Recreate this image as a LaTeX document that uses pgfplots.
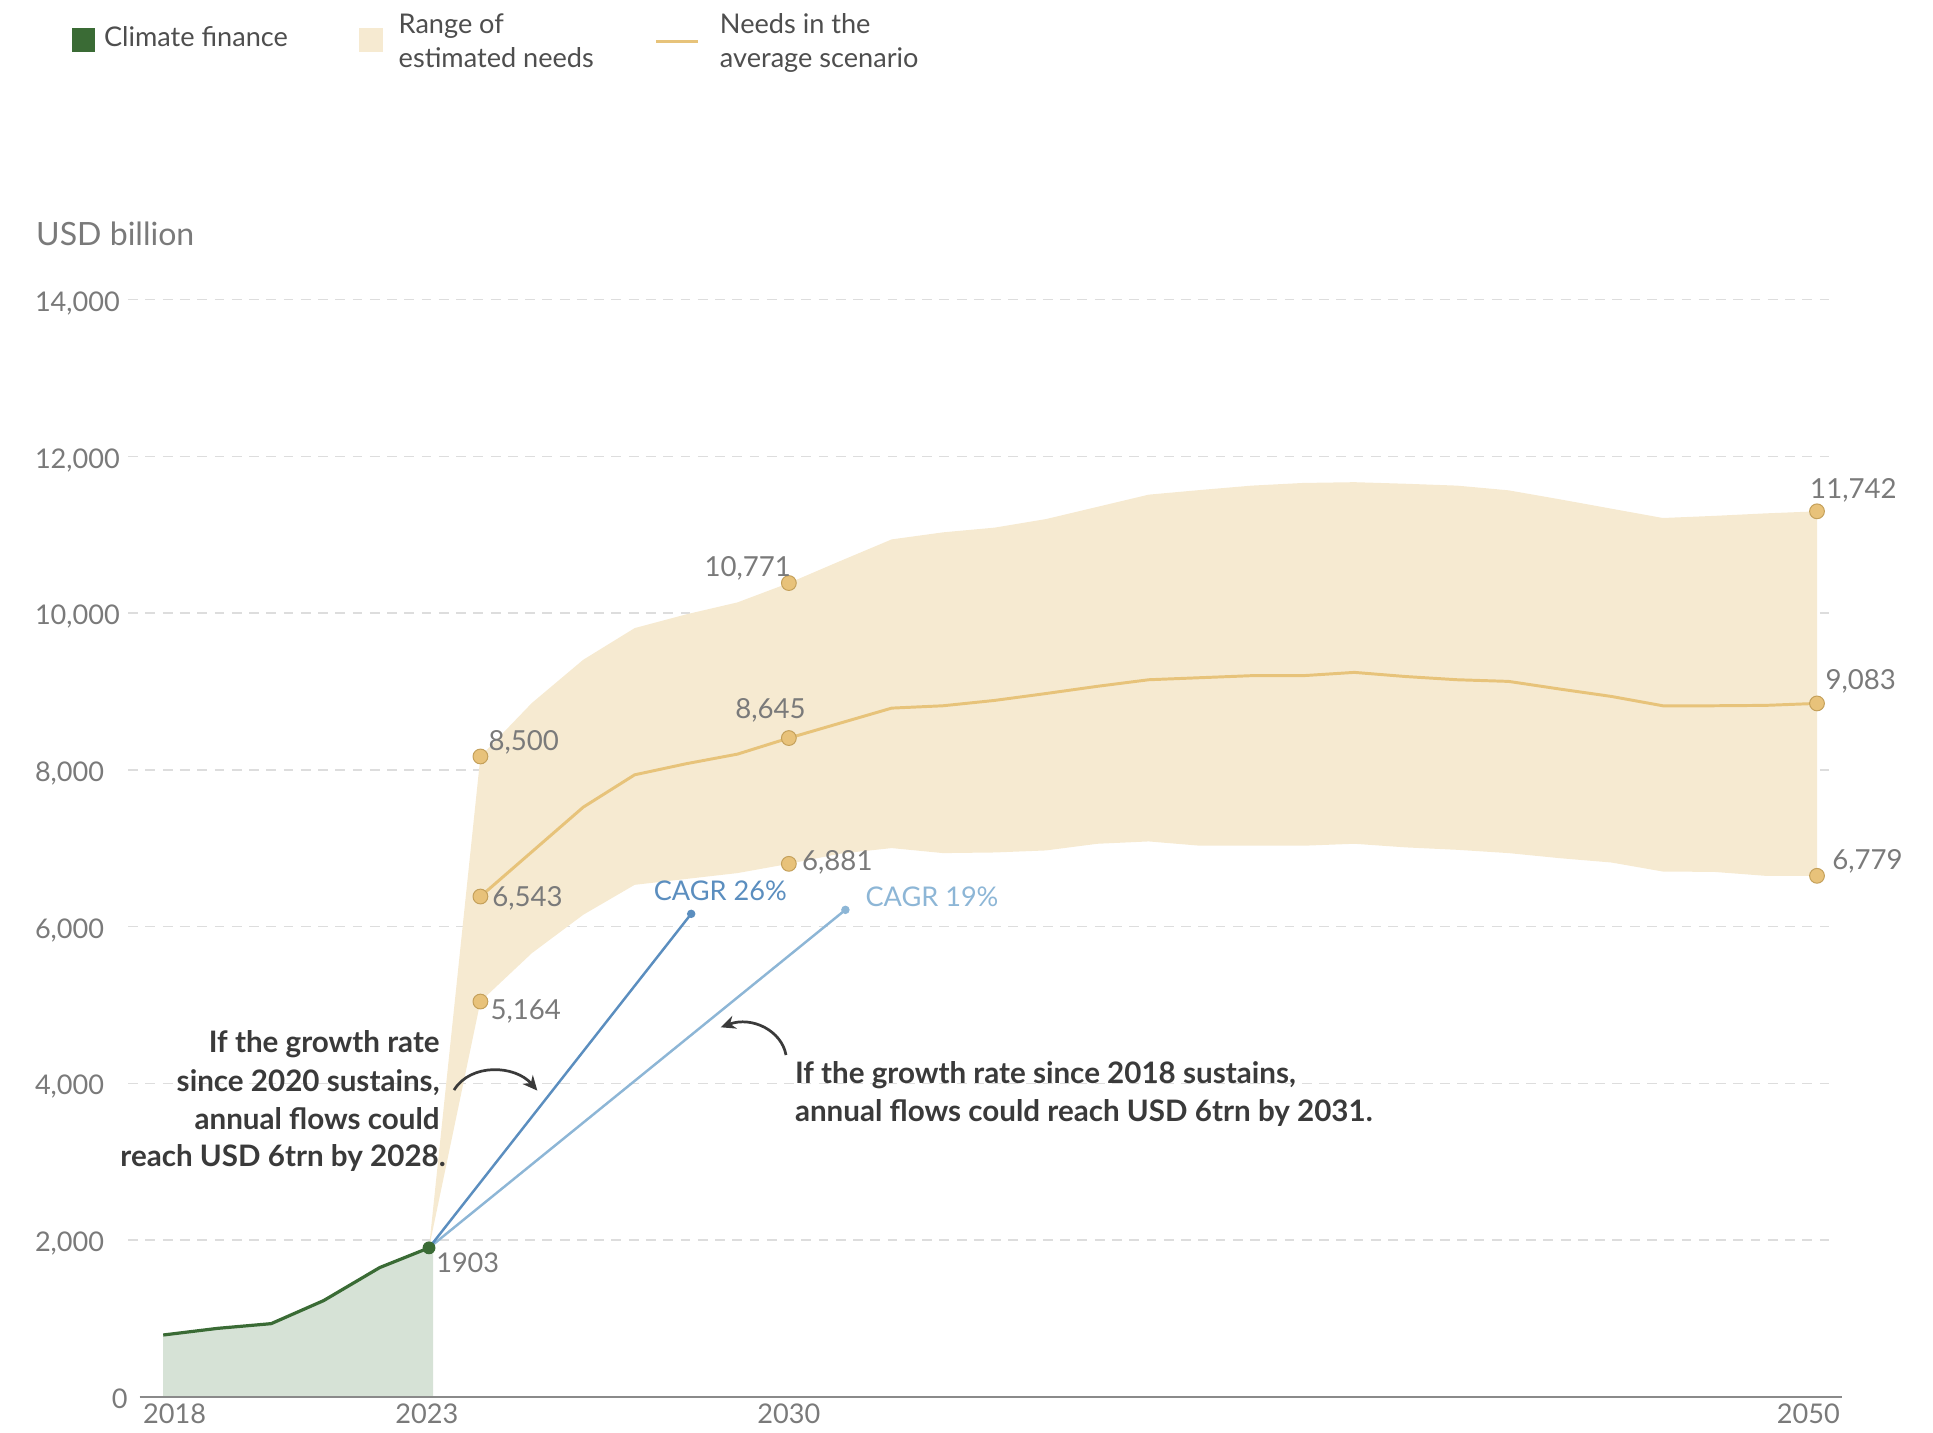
\documentclass[border=0pt]{standalone}
\usepackage{fontspec}
\setmainfont{Lato}
\usepackage{pgfplots}
\pgfplotsset{compat=1.18}
\usetikzlibrary{arrows.meta}
\definecolor{cfgreen}{HTML}{3A6B35}
\definecolor{cffill}{HTML}{D6E2D6}
\definecolor{band}{HTML}{F6EAD1}
\definecolor{meanline}{HTML}{E7C37A}
\definecolor{dotfill}{HTML}{E8C27A}
\definecolor{dotdraw}{HTML}{C4A05A}
\definecolor{blueA}{HTML}{5B8EBF}
\definecolor{blueB}{HTML}{8DB6D6}
\definecolor{txtgrey}{HTML}{7A7A7A}
\definecolor{darktxt}{HTML}{3A3A3A}
\definecolor{gridc}{HTML}{DDDDDD}
\definecolor{axisc}{HTML}{8A8A8A}
\newcommand{\fs}[1]{\fontsize{#1}{#1}\selectfont}
\begin{document}
\begin{tikzpicture}
\begin{axis}[
  at={(52pt,-566.5pt)}, anchor=south west,
  scale only axis, width=693pt, height=445pt,
  xmin=2017.1487, xmax=2050.386, ymin=0, ymax=14000,
  scaled x ticks=false, scaled y ticks=false,
  axis line style={draw=none},
  major tick length=0pt,
  xtick={2018.05,2022.96,2030,2049.83},
  xticklabels={\raisebox{-3.3pt}{2018},2023,2030,2050},
  xticklabel style={inner sep=0pt, anchor=north, yshift=-2.5pt, font=\fs{11}, text=txtgrey},
  ytick={2000,4000,6000,8000,10000,12000,14000},
  yticklabels={{2,000},{4,000},{6,000},{8,000},{10,000},{12,000},{14,000}},
  yticklabel style={anchor=west, inner sep=0pt, xshift=-38pt, yshift=-1.5pt, font=\fs{11}, text=txtgrey},
  ymajorgrids, grid style={gridc, dash pattern=on 4pt off 3pt, line width=0.6pt},
  clip=false,
]
% range of estimated needs (upper then lower reversed)
\addplot[draw=none, fill=band] coordinates {
(2023,1900) (2024,8170) (2025,8852) (2026,9404) (2027,9808) (2028,9983) (2029,10136) (2030,10383)
(2031,10664) (2032,10940) (2033,11030) (2034,11090) (2035,11199) (2036,11355) (2037,11511)
(2038,11570) (2039,11626) (2040,11660) (2041,11670) (2042,11650) (2043,11626) (2044,11566)
(2045,11451) (2046,11332) (2047,11213) (2048,11240) (2049,11272) (2050,11298)
(2050,6647) (2049,6647) (2048,6697) (2047,6702) (2046,6817) (2045,6872) (2044,6937) (2043,6979)
(2042,7010) (2041,7056) (2040,7031) (2039,7031) (2038,7031) (2037,7086) (2036,7056) (2035,6971)
(2034,6945) (2033,6937) (2032,7001) (2031,6930) (2030,6800) (2029,6682) (2028,6607) (2027,6532)
(2026,6150) (2025,5660) (2024,5043) (2023,1900)
};
% climate finance area
\addplot[draw=none, fill=cffill] coordinates {
(2017.83,0) (2017.83,788) (2018.89,873) (2019.93,933) (2020.95,1227) (2022.04,1648) (2023,1900) (2023.08,1900) (2023.08,0)
};
% average scenario
\addplot[meanline, line width=1.2pt] coordinates {
(2024,6383) (2025,6953) (2026,7523) (2027,7936) (2028,8077) (2029,8200) (2030,8405) (2031,8596)
(2032,8787) (2033,8817) (2034,8885) (2035,8973) (2036,9065) (2037,9149) (2038,9175) (2039,9201)
(2040,9201) (2041,9243) (2042,9190) (2043,9149) (2044,9128) (2045,9030) (2046,8936) (2047,8817)
(2048,8817) (2049,8822) (2050,8847)
};
% CAGR lines
\addplot[blueB, line width=1pt] coordinates {(2023,1900) (2031.1,6213)};
\addplot[blueA, line width=1pt] coordinates {(2023,1900) (2028.1,6162)};
\addplot[only marks, mark=*, mark size=1.5pt, blueB] coordinates {(2031.1,6213)};
\addplot[only marks, mark=*, mark size=1.5pt, blueA] coordinates {(2028.1,6162)};
% climate finance line
\addplot[cfgreen, line width=1.3pt] coordinates {
(2017.83,788) (2018.89,873) (2019.93,933) (2020.95,1227) (2022.04,1648) (2023,1900)
};
\addplot[only marks, mark=*, mark size=2.4pt, cfgreen] coordinates {(2023,1900)};
% highlighted points
\addplot[only marks, mark=*, mark size=3pt, mark options={fill=dotfill, draw=dotdraw, line width=0.4pt}] coordinates {
(2024,8170) (2024,6383) (2024,5043) (2030,10383) (2030,8405) (2030,6800) (2050,11298) (2050,8847) (2050,6647)
};
\draw[axisc, line width=1pt] (axis cs:2017.37,0) -- (axis cs:2050.48,0);
\end{axis}
\begin{scope}[x=0.5pt, y=-0.5pt]
% legend
\fill[cfgreen] (58,23) rectangle (77,42);
\node[anchor=base west, inner sep=0pt, text=darktxt!90] at (84,38) {\fs{11}Climate finance};
\fill[band] (291,23) rectangle (311,42);
\node[anchor=base west, inner sep=0pt, text=darktxt!90] at (323,27) {\fs{11}Range of};
\node[anchor=base west, inner sep=0pt, text=darktxt!90] at (323,54.5) {\fs{11}estimated needs};
\draw[meanline, line width=1.3pt] (532.5,33.5) -- (566.3,33.5);
\node[anchor=base west, inner sep=0pt, text=darktxt!90] at (583.6,27.5) {\fs{11}Needs in the};
\node[anchor=base west, inner sep=0pt, text=darktxt!90] at (583.6,55) {\fs{11}average scenario};
% axis title
\node[anchor=base west, inner sep=0pt, text=txtgrey] at (29,199.5) {\fs{13}USD billion};
\node[anchor=east, inner sep=0pt, text=txtgrey] at (104,1134.5) {\fs{11}0};
% value labels
\node[anchor=base west, inner sep=0pt, text=txtgrey] at (396,609) {\fs{11.2}8,500};
\node[anchor=base west, inner sep=0pt, text=txtgrey] at (399,735.5) {\fs{11.2}6,543};
\node[anchor=base west, inner sep=0pt, text=txtgrey] at (397.5,827) {\fs{11.2}5,164};
\node[anchor=base east, inner sep=0pt, text=txtgrey] at (642,467.6) {\fs{11.2}10,771};
\node[anchor=base, inner sep=0pt, text=txtgrey] at (625,582.6) {\fs{11.2}8,645};
\node[anchor=base west, inner sep=0pt, text=txtgrey] at (650.3,706.3) {\fs{11.2}6,881};
\node[anchor=base west, inner sep=0pt, text=txtgrey] at (1468,404) {\fs{11.2}11,742};
\node[anchor=base west, inner sep=0pt, text=txtgrey] at (1480.4,559.6) {\fs{11.2}9,083};
\node[anchor=base west, inner sep=0pt, text=txtgrey] at (1486,705.5) {\fs{11.2}6,779};
\node[anchor=base west, inner sep=0pt, text=txtgrey] at (353.5,1032) {\fs{11}1903};
\node[anchor=base west, inner sep=0pt, text=blueA] at (530,730.7) {\fs{11}CAGR 26\%};
\node[anchor=base west, inner sep=0pt, text=blueB] at (701.7,735.4) {\fs{11}CAGR 19\%};
% annotations
\node[anchor=base east, inner sep=0pt, text=darktxt] at (357,853.9) {\fs{12}\bfseries If the growth rate};
\node[anchor=base east, inner sep=0pt, text=darktxt] at (357,885) {\fs{12}\bfseries since 2020 sustains,};
\node[anchor=base east, inner sep=0pt, text=darktxt] at (357,916) {\fs{12}\bfseries annual flows could};
\node[anchor=base east, inner sep=0pt, text=darktxt] at (362,946.4) {\fs{12}\bfseries reach USD 6trn by 2028.};
\node[anchor=base west, inner sep=0pt, text=darktxt] at (644.5,878.7) {\fs{12}\bfseries If the growth rate since 2018 sustains,};
\node[anchor=base west, inner sep=0pt, text=darktxt] at (644.5,909.9) {\fs{12}\bfseries annual flows could reach USD 6trn by 2031.};
\draw[darktxt, line width=1.1pt, -{Stealth[length=6pt,width=5.5pt]}] (368.3,884.2) .. controls (382,862) and (418,864) .. (435.9,884.7);
\draw[darktxt, line width=1.1pt, -{Stealth[length=6pt,width=5.5pt]}] (637.6,855.8) .. controls (634,836) and (610,824) .. (584.6,833.3);
\pgfresetboundingbox
\path (0,0) rectangle (1568,1162);
\end{scope}
\end{tikzpicture}
\end{document}
